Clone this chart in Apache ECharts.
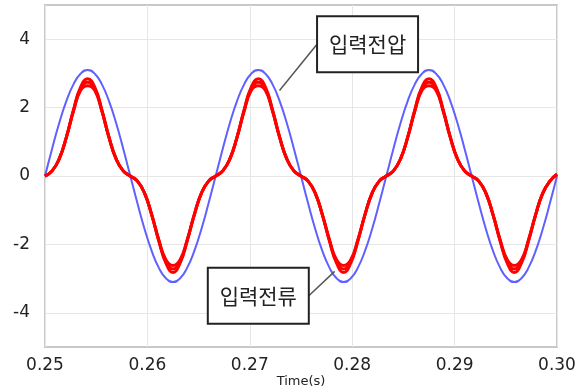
<!DOCTYPE html>
<html><head><meta charset="utf-8">
<script src="https://cdn.jsdelivr.net/npm/echarts@6/dist/echarts.min.js"></script>
<style>html,body{margin:0;padding:0;background:#fff}#c{width:577px;height:389px}</style>
</head><body><div id="c"></div>
<script>
const time = [0.25,0.250694,0.251389,0.252083,0.252778,0.253472,0.254167,0.254861,0.255556,0.25625,0.256944,0.257639,
0.258333,0.259028,0.259722,0.260417,0.261111,0.261806,0.2625,0.263194,0.263889,0.264583,0.265278,0.265972,
0.266667,0.267361,0.268056,0.26875,0.269444,0.270139,0.270833,0.271528,0.272222,0.272917,0.273611,0.274306,
0.275,0.275694,0.276389,0.277083,0.277778,0.278472,0.279167,0.279861,0.280556,0.28125,0.281944,0.282639,
0.283333,0.284028,0.284722,0.285417,0.286111,0.286806,0.2875,0.288194,0.288889,0.289583,0.290278,0.290972,
0.291667,0.292361,0.293056,0.29375,0.294444,0.295139,0.295833,0.296528,0.297222,0.297917,0.298611,0.299306,0.3];
const voltage = [0,0.80,1.55,2.19,2.68,2.99,3.10,2.99,2.68,2.19,1.55,0.80,0,-0.80,-1.55,-2.19,-2.68,-2.99,-3.10,-2.99,-2.68,-2.19,-1.55,-0.80,
0,0.80,1.55,2.19,2.68,2.99,3.10,2.99,2.68,2.19,1.55,0.80,0,-0.80,-1.55,-2.19,-2.68,-2.99,-3.10,-2.99,-2.68,-2.19,-1.55,-0.80,
0,0.80,1.55,2.19,2.68,2.99,3.10,2.99,2.68,2.19,1.55,0.80,0,-0.80,-1.55,-2.19,-2.68,-2.99,-3.10,-2.99,-2.68,-2.19,-1.55,-0.80,0];
const current = [0,0.15,0.50,1.13,1.91,2.55,2.74,2.55,1.91,1.13,0.50,0.15,0,-0.15,-0.50,-1.13,-1.88,-2.50,-2.72,-2.50,-1.88,-1.13,-0.50,-0.15,
0,0.15,0.50,1.13,1.91,2.55,2.74,2.55,1.91,1.13,0.50,0.15,0,-0.15,-0.50,-1.13,-1.88,-2.50,-2.72,-2.50,-1.88,-1.13,-0.50,-0.15,
0,0.15,0.50,1.13,1.91,2.55,2.74,2.55,1.91,1.13,0.50,0.15,0,-0.15,-0.50,-1.13,-1.88,-2.50,-2.72,-2.50,-1.88,-1.13,-0.50,-0.15,0.05];
// ripple envelope of the current (upper / lower edge of the thick band near the peaks)
const currentUpper = [0,0.15,0.50,1.13,1.93,2.60,2.84,2.60,1.93,1.13,0.50,0.15,0,-0.15,-0.50,-1.13,-1.86,-2.45,-2.62,-2.45,-1.86,-1.13,-0.50,-0.15,
0,0.15,0.50,1.13,1.93,2.60,2.84,2.60,1.93,1.13,0.50,0.15,0,-0.15,-0.50,-1.13,-1.86,-2.45,-2.62,-2.45,-1.86,-1.13,-0.50,-0.15,
0,0.15,0.50,1.13,1.93,2.60,2.84,2.60,1.93,1.13,0.50,0.15,0,-0.15,-0.50,-1.13,-1.86,-2.45,-2.62,-2.45,-1.86,-1.13,-0.50,-0.15,0.05];
const currentLower = [0,0.15,0.50,1.13,1.89,2.50,2.64,2.50,1.89,1.13,0.50,0.15,0,-0.15,-0.50,-1.13,-1.90,-2.55,-2.82,-2.55,-1.90,-1.13,-0.50,-0.15,
0,0.15,0.50,1.13,1.89,2.50,2.64,2.50,1.89,1.13,0.50,0.15,0,-0.15,-0.50,-1.13,-1.90,-2.55,-2.82,-2.55,-1.90,-1.13,-0.50,-0.15,
0,0.15,0.50,1.13,1.89,2.50,2.64,2.50,1.89,1.13,0.50,0.15,0,-0.15,-0.50,-1.13,-1.90,-2.55,-2.82,-2.55,-1.90,-1.13,-0.50,-0.15,0.05];
const xTicks = [0.25,0.26,0.27,0.28,0.29,0.30];
const yTicks = [-4,-2,0,2,4];
const annotations = [
  {text:'입력전압', box:[0.2815,3.85], target:[0.2729,2.5]},
  {text:'입력전류', box:[0.27083,-3.5], target:[0.27829,-2.79]}
];

const vData = time.map((t,i)=>[t,voltage[i]]);
const iData = time.map((t,i)=>[t,current[i]]);
const upData = time.map((t,i)=>[t,currentUpper[i]]);
const lowData = time.map((t,i)=>[t,currentLower[i]]);

const chart = echarts.init(document.getElementById('c'));
const font = 'DejaVu Sans';
const redLine = (data,w)=>({type:'line',data,smooth:true,symbol:'none',lineStyle:{color:'#ff0000',width:w},z:4});
chart.setOption({
  animation:false,
  grid:{left:45,right:20,top:5,bottom:42,outerBoundsMode:'none',containLabel:false,
    show:true,borderColor:'#c8c8c8',borderWidth:2,backgroundColor:'transparent'},
  xAxis:{type:'value',min:0.25,max:0.30,interval:0.01,
    name:'Time(s)',nameLocation:'middle',nameGap:28,nameMoveOverlap:false,
    nameTextStyle:{fontFamily:font,fontSize:13,color:'#222'},
    axisLine:{show:false},axisTick:{show:false},
    axisLabel:{fontFamily:font,fontSize:17,color:'#222',margin:10,formatter:v=>v.toFixed(2),
      customValues:xTicks},
    splitLine:{show:true,lineStyle:{color:'#e6e6e6',width:1}}},
  yAxis:{type:'value',min:-5,max:5,
    axisLine:{show:false},
    axisTick:{show:false,customValues:yTicks},
    axisLabel:{fontFamily:font,fontSize:17,color:'#222',margin:15,customValues:yTicks},
    splitLine:{show:true,lineStyle:{color:'#e6e6e6',width:1}}},
  series:[
    {type:'line',data:vData,smooth:true,symbol:'none',lineStyle:{color:'#6060ff',width:2},z:2},
    redLine(upData,3),
    redLine(lowData,3),
    redLine(iData,3)
  ]
});

const g = [];
annotations.forEach(a=>{
  const b = chart.convertToPixel({gridIndex:0}, a.box);
  const p = chart.convertToPixel({gridIndex:0}, a.target);
  const w = 101, h = 56;
  const left = b[0]-w/2, top = b[1]-h/2;
  const ex = p[0] < left ? left : left + w;
  g.push({type:'line',shape:{x1:ex,y1:b[1],x2:p[0],y2:p[1]},style:{stroke:'#555',lineWidth:1.5},z:10});
  g.push({type:'rect',shape:{x:left,y:top,width:w,height:h},style:{fill:'#fff',stroke:'#222',lineWidth:2},z:11});
  g.push({type:'text',x:b[0],y:b[1],style:{text:a.text,fontFamily:'Noto Sans CJK KR',fontSize:21,fill:'#222',align:'center',verticalAlign:'middle'},z:12});
});
chart.setOption({graphic:g});
</script></body></html>
